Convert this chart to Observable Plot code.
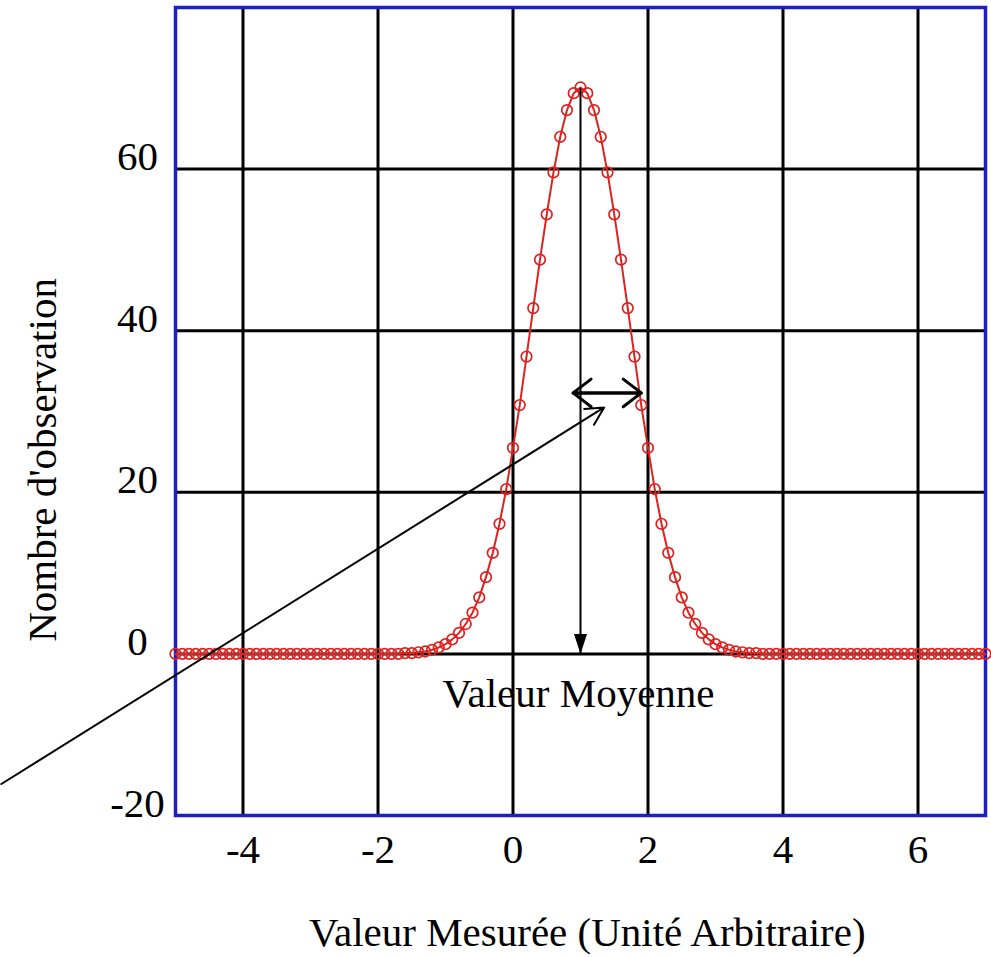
<!DOCTYPE html>
<html><head><meta charset="utf-8">
<script src="https://cdn.jsdelivr.net/npm/d3@7"></script>
<script src="https://cdn.jsdelivr.net/npm/@observablehq/plot@0.6"></script>
<style>body{margin:0;background:#fff}</style>
</head><body><div id="chart"></div>
<script>
// Measured values (Unité Arbitraire) and number of observations
const xs = [
  -5,-4.9,-4.8,-4.7,-4.6,-4.5,-4.4,-4.3,-4.2,-4.1,
  -4,-3.9,-3.8,-3.7,-3.6,-3.5,-3.4,-3.3,-3.2,-3.1,
  -3,-2.9,-2.8,-2.7,-2.6,-2.5,-2.4,-2.3,-2.2,-2.1,
  -2,-1.9,-1.8,-1.7,-1.6,-1.5,-1.4,-1.3,-1.2,-1.1,
  -1,-0.9,-0.8,-0.7,-0.6,-0.5,-0.4,-0.3,-0.2,-0.1,
  0,0.1,0.2,0.3,0.4,0.5,0.6,0.7,0.8,0.9,
  1,1.1,1.2,1.3,1.4,1.5,1.6,1.7,1.8,1.9,
  2,2.1,2.2,2.3,2.4,2.5,2.6,2.7,2.8,2.9,
  3,3.1,3.2,3.3,3.4,3.5,3.6,3.7,3.8,3.9,
  4,4.1,4.2,4.3,4.4,4.5,4.6,4.7,4.8,4.9,
  5,5.1,5.2,5.3,5.4,5.5,5.6,5.7,5.8,5.9,
  6,6.1,6.2,6.3,6.4,6.5,6.6,6.7,6.8,6.9,
  7
];
const ys = [
  0,0,0,0,0,0,0,0,0,0,
  0,0,0,0,0,0,0,0,0,0,
  0,0,0,0,0,0,0,0,0,0,
  0,0,0,0,0.1,0.1,0.2,0.3,0.5,0.8,
  1.2,1.8,2.6,3.7,5.1,7.0,9.5,12.5,16.1,20.4,
  25.5,30.8,36.8,42.8,48.8,54.4,59.6,64.0,67.3,69.4,
  70.1,69.4,67.3,64.0,59.6,54.4,48.8,42.8,36.8,30.8,
  25.5,20.4,16.1,12.5,9.5,7.0,5.1,3.7,2.6,1.8,
  1.2,0.8,0.5,0.3,0.2,0.1,0.1,0,0,0,
  0,0,0,0,0,0,0,0,0,0,
  0,0,0,0,0,0,0,0,0,0,
  0,0,0,0,0,0,0,0,0,0,
  0
];
const xTicks = [-4,-2,0,2,4,6];
const yTicks = [-20,0,20,40,60];
const yGrid = [0,20,40,60];
const xTitle = "Valeur Mesurée (Unité Arbitraire)";
const yTitle = "Nombre d'observation";
const meanText = "Valeur Moyenne";
const meanX = 1.0;
const peakY = 70;
const halfWidth = [{x1: 0.89, x2: 1.9, y: 32.3}];
const pointer = [{x1: -7.58, y1: -16.1, x2: 1.35, y2: 30.5}];

const red = "#dc2320";
const blue = "#1e1ec8";
const fs = 41;
const downTriangle = {draw(ctx) { ctx.moveTo(0, 0); ctx.lineTo(-6.5, -20); ctx.lineTo(6.5, -20); ctx.closePath(); }};

const chart = Plot.plot({
  width: 991, height: 957,
  marginLeft: 175, marginRight: 6, marginTop: 7, marginBottom: 142,
  x: {domain: [-5, 7]},
  y: {domain: [-20, 80]},
  style: {fontFamily: "'Liberation Serif', 'Times New Roman', serif", fontSize: fs + "px", color: "black", background: "white", overflow: "visible"},
  marks: [
    Plot.gridX(xTicks, {stroke: "black", strokeOpacity: 1, strokeWidth: 3}),
    Plot.gridY(yGrid, {stroke: "black", strokeOpacity: 1, strokeWidth: 3}),
    Plot.frame({stroke: blue, strokeWidth: 3.5}),
    Plot.axisX(xTicks, {tickSize: 0, tickPadding: 18, fontSize: fs, label: null, tickFormat: d => String(d)}),
    Plot.axisY(yTicks, {tickSize: 0, tickPadding: 38, textAnchor: "middle", dy: -12, fontSize: fs, label: null, tickFormat: d => String(d)}),
    Plot.line(xs, {x: xs, y: ys, stroke: red, strokeWidth: 2}),
    Plot.dot(xs, {x: xs, y: ys, r: 5.3, stroke: red, fill: "none", strokeWidth: 1.7}),
    Plot.link([0], {x1: () => meanX, x2: () => meanX, y1: () => peakY, y2: () => 0, stroke: "black", strokeWidth: 2}),
    Plot.dot([0], {x: () => meanX, y: () => 0, symbol: downTriangle, fill: "black", stroke: "none"}),
    Plot.arrow(pointer, {x1: "x1", y1: "y1", x2: "x2", y2: "y2", stroke: "black", strokeWidth: 2, headLength: 15, headAngle: 55}),
    Plot.arrow(halfWidth, {x1: "x1", x2: "x2", y1: "y", y2: "y", stroke: "black", strokeWidth: 3, headLength: 11.5, headAngle: 75}),
    Plot.arrow(halfWidth, {x1: "x2", x2: "x1", y1: "y", y2: "y", stroke: "black", strokeWidth: 3, headLength: 11.5, headAngle: 75}),
    Plot.text([meanText], {x: () => 0.97, y: () => -5, text: d => d, fontSize: fs, textAnchor: "middle", lineAnchor: "middle"}),
    Plot.text([xTitle], {x: () => 1.1, y: () => -20, dy: 117, text: d => d, fontSize: fs, textAnchor: "middle", lineAnchor: "middle"}),
    Plot.text([yTitle], {x: () => -5, y: () => 24, dx: -133, rotate: -90, text: d => d, fontSize: fs, textAnchor: "middle", lineAnchor: "middle"})
  ]
});
document.getElementById("chart").appendChild(chart);
</script>
</body></html>
